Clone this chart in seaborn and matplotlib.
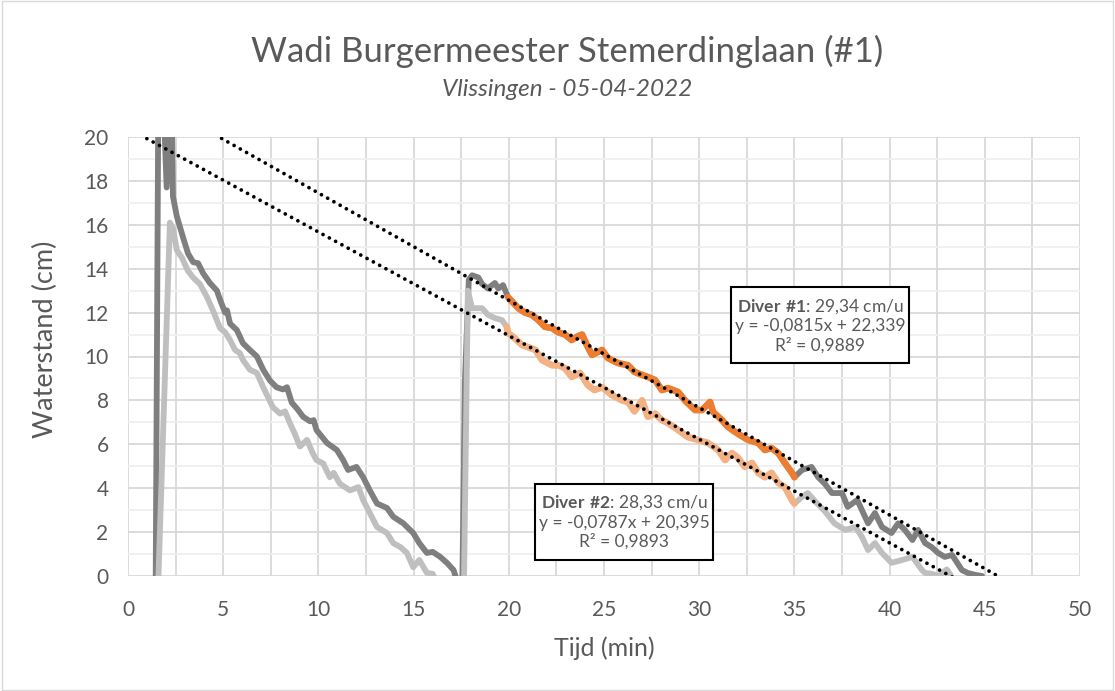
import numpy as np
import pandas as pd
import seaborn as sns
import matplotlib.pyplot as plt
from matplotlib.patches import Rectangle

# DATA - time in minutes, water level in cm
d1_t = [0, 1.45, 1.6, 1.85, 2.03, 2.2, 2.3, 2.36, 2.56, 2.73, 2.9, 3.15, 3.42, 3.68, 3.94, 4.3,
        4.67, 4.83, 5.1, 5.2, 5.36, 5.72, 6.04, 6.4, 6.77, 7.1, 7.46, 7.8, 8.14, 8.35, 8.6, 8.9,
        9.2, 9.56, 9.75, 9.9, 10.45, 10.97, 11.3, 11.56, 12.0, 12.35, 12.7, 13.08, 13.6, 13.93,
        14.46, 14.98, 15.3, 15.7, 16.0, 16.4, 16.75, 17.1, 17.3, 17.55, 17.7, 17.9, 18.07, 18.4,
        18.6, 18.9, 19.27, 19.45, 19.7, 19.96, 20.5, 20.85, 21.2, 21.55, 21.9, 22.27, 22.6, 22.95,
        23.3, 23.58, 23.85, 24.15, 24.37, 24.9, 25.2, 25.73, 26.26, 26.6, 27.0, 27.3, 27.68, 28.04,
        28.36, 28.9, 29.25, 29.78, 30.15, 30.57, 30.73, 31.2, 31.5, 32.0, 32.56, 33.1, 33.45, 33.8,
        34.15, 34.5, 34.87, 35.0, 35.4, 35.9, 36.25, 36.6, 36.97, 37.5, 37.8, 38.3, 38.55, 38.87,
        39.23, 39.6, 40.1, 40.45, 40.8, 41.2, 41.5, 41.86, 42.2, 42.55, 42.9, 43.28, 43.8, 44.1,
        44.5, 44.85, 45.0]
d1_h = [-1, -1, 23, 22, 17.7, 21, 21, 17.3, 16.4, 15.9, 15.4, 14.7, 14.3, 14.25, 13.8, 13.35,
        13.0, 12.6, 12.0, 12.1, 11.5, 11.2, 10.6, 10.3, 10.0, 9.4, 8.9, 8.6, 8.5, 8.6, 7.9, 7.6,
        7.25, 7.05, 7.1, 6.65, 6.06, 5.74, 5.28, 4.83, 4.97, 4.5, 3.9, 3.3, 3.1, 2.7,
        2.4, 1.96, 1.5, 1.05, 1.1, 0.87, 0.6, 0.27, -0.3, -1, 9, 13.5, 13.7, 13.6,
        13.3, 13.1, 13.35, 13.1, 13.25, 12.7, 12.2, 12.0, 11.9, 11.66, 11.35, 11.3, 11.1, 11.0,
        10.75, 10.9, 11.0, 10.43, 10.07, 10.3, 9.93, 9.7, 9.6, 9.3, 9.16, 9.07, 8.93, 8.47,
        8.56, 8.38, 8.0, 7.56, 7.56, 7.93, 7.47, 7.1, 6.8, 6.5, 6.2, 6.06, 5.74, 5.83,
        5.6, 5.15, 4.7, 4.5, 4.83, 4.97, 4.5, 4.2, 3.78, 3.78, 3.15, 3.46, 3.0, 2.4,
        2.87, 2.23, 1.96, 2.4, 2.1, 1.64, 2.1, 1.5, 1.32, 1.05, 0.87, 0.96, 0.27, 0.14,
        0.05, 0.0, -0.5]

d2_t = [0, 1.55, 1.6, 2.2, 2.37, 2.56, 2.83, 3.15, 3.42, 3.78, 4.15, 4.46, 4.83, 5.1, 5.36, 5.62,
        5.88, 6.04, 6.4, 6.77, 7.1, 7.35, 7.6, 7.98, 8.25, 8.5, 8.75, 9.03, 9.4, 9.7, 9.9, 10.25,
        10.6, 10.8, 11.13, 11.66, 12.1, 12.35, 12.7, 13.08, 13.6, 13.93, 14.3, 14.65, 14.98, 15.3,
        15.7, 16.0, 16.2, 16.5, 17.5, 17.65, 17.85, 18.07, 18.6, 18.9, 19.27, 19.64, 19.9, 19.96,
        20.3, 20.7, 21.0, 21.4, 21.74, 22.27, 22.6, 22.95, 23.3, 23.74, 24.15, 24.5, 24.9, 25.4,
        25.95, 26.26, 26.6, 27.0, 27.3, 27.68, 28.04, 28.36, 28.9, 29.4, 29.94, 30.46, 31.0, 31.36,
        31.72, 32.0, 32.4, 32.77, 33.1, 33.45, 33.8, 34.15, 34.5, 34.87, 35.0, 35.4, 35.7, 36.2,
        36.6, 37.1, 37.66, 38.2, 38.55, 38.87, 39.23, 39.6, 40.1, 40.66, 41.2, 41.7, 41.86, 42.2,
        42.6, 43.0, 43.2, 43.4]
d2_h = [-1, -1, 0, 16.1, 15.8, 14.85, 14.5, 13.9, 13.6, 13.3, 12.7, 12.1, 11.3, 11.1, 10.75, 10.3,
        10.15, 9.84, 9.4, 9.25, 8.6, 8.15, 7.7, 7.4, 7.5, 6.97, 6.5, 5.9, 6.2, 5.6, 5.28, 5.13,
        4.5, 4.7, 4.2, 3.9, 4.05, 3.46, 2.87, 2.23, 1.96, 1.5, 1.32, 1.05, 0.4, 0.73,
        0.14, 0.1, -0.3, -1, -1, 0, 13.0, 12.2, 12.2, 11.9, 11.75, 11.66, 11.35, 11.07,
        10.84, 10.52, 10.43, 10.3, 9.84, 9.6, 9.6, 9.47, 9.07, 9.25, 8.7, 8.47, 8.6, 8.25,
        8.0, 7.93, 7.5, 8.0, 7.26, 7.4, 7.1, 6.97, 6.65, 6.33, 6.2, 6.06, 5.74, 5.28,
        5.6, 5.42, 4.97, 5.15, 4.7, 4.5, 4.7, 4.24, 4.05, 3.46, 3.3, 3.6, 3.78, 3.3,
        2.95, 2.4, 2.1, 2.23, 1.78, 1.18, 1.5, 1.05, 0.6, 0.73, 0.87, 0.27, 0.14, 0.1,
        0.0, 0.3, 0.05, -0.5]

# fit window (min) and trendline coefficients (x = sample index, 10 s logging)
fit_start, fit_end = 19.9, 35.0
samples_per_min = 6
fit1 = (-0.0815, 22.339)
fit2 = (-0.0787, 20.395)
labels = ["$\\bf{Diver\\ \\#1}$: 29,34 cm/u\ny = -0,0815x + 22,339\nR² = 0,9889",
          "$\\bf{Diver\\ \\#2}$: 28,33 cm/u\ny = -0,0787x + 20,395\nR² = 0,9893"]

df1 = pd.DataFrame({'t': d1_t, 'h': d1_h})
df2 = pd.DataFrame({'t': d2_t, 'h': d2_h})
fit_df1 = df1[(df1['t'] >= fit_start) & (df1['t'] <= fit_end)]
fit_df2 = df2[(df2['t'] >= fit_start) & (df2['t'] <= fit_end)]

trend_t = np.array([0, 50])
trend1 = pd.DataFrame({'t': trend_t, 'h': fit1[0] * trend_t * samples_per_min + fit1[1]})
trend2 = pd.DataFrame({'t': trend_t, 'h': fit2[0] * trend_t * samples_per_min + fit2[1]})

# STYLE
sns.set_theme(style='white')
plt.rcParams['font.family'] = ['Lato', 'DejaVu Sans']
plt.rcParams['mathtext.fontset'] = 'custom'
plt.rcParams['mathtext.rm'] = 'Lato'
plt.rcParams['mathtext.bf'] = 'Lato:bold'
txt = '#595959'

fig = plt.figure(figsize=(11.15, 6.91), dpi=100)
ax = fig.add_axes([128 / 1115, 1 - 576 / 691, 952 / 1115, 439 / 691])

lw = 4.2
sns.lineplot(data=df1, x='t', y='h', color='#7F7F7F', linewidth=lw, sort=False, estimator=None, ax=ax)
sns.lineplot(data=df2, x='t', y='h', color='#BFBFBF', linewidth=lw, sort=False, estimator=None, ax=ax)
sns.lineplot(data=fit_df1, x='t', y='h', color='#ED7D31', linewidth=lw + 0.6, sort=False, estimator=None, ax=ax)
sns.lineplot(data=fit_df2, x='t', y='h', color='#F4B183', linewidth=lw + 0.6, sort=False, estimator=None, ax=ax)
for tr in [trend1, trend2]:
    sns.lineplot(data=tr, x='t', y='h', color='black', linewidth=2.7, sort=False, estimator=None,
                 ax=ax, linestyle=(0, (0.01, 1.9)), dash_capstyle='round')

ax.set_xlim(0, 50)
ax.set_ylim(0, 20)
ax.set_xticks(np.arange(0, 51, 5))
ax.set_xticks(np.arange(2.5, 50, 5), minor=True)
ax.set_yticks(np.arange(0, 21, 2))
ax.set_yticks(np.arange(1, 20, 2), minor=True)
ax.grid(which='major', color='#D9D9D9', linewidth=1.3)
ax.grid(which='minor', axis='y', color='#F0F0F0', linewidth=1.3)
ax.grid(which='minor', axis='x', color='#D9D9D9', linewidth=1.3)
ax.set_axisbelow(True)
for s in ax.spines.values():
    s.set_visible(False)
ax.tick_params(which='both', length=0, labelsize=15, colors=txt)
ax.tick_params(axis='x', pad=17)
ax.tick_params(axis='y', pad=14)
ax.set_xlabel('Tijd (min)', fontsize=18, color=txt, labelpad=12)
ax.set_ylabel('Waterstand (cm)', fontsize=19.5, color=txt)
ax.yaxis.set_label_coords(-0.074, 0.54)

# annotation boxes
boxes = [(31.67, 9.70, 9.35, 3.47), (21.38, 0.73, 9.34, 3.47)]
for (x0, y0, w, h), lab in zip(boxes, labels):
    ax.add_patch(Rectangle((x0, y0), w, h, facecolor='white', edgecolor='black', linewidth=1.5, zorder=5))
    ax.text(x0 + w / 2, y0 + h / 2, lab, ha='center', va='center', fontsize=12.5, color=txt,
            linespacing=1.2, zorder=6)

fig.text(0.509, 0.925, 'Wadi Burgermeester Stemerdinglaan (#1)', ha='center', va='center',
         fontsize=25, color=txt)
fig.text(0.509, 0.871, 'Vlissingen - 05-04-2022', ha='center', va='center', fontsize=17.5,
         color=txt, style='italic')
fig.patches.append(Rectangle((0.002, 0.002), 0.996, 0.996, transform=fig.transFigure,
                             fill=False, edgecolor='#D9D9D9', linewidth=1))

plt.savefig('out.png', dpi=100)
